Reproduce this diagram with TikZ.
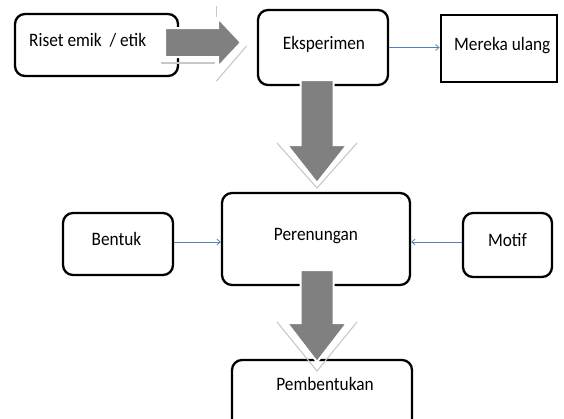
\documentclass[tikz,border=0pt]{standalone}
\usepackage{fontspec}
\setmainfont[FakeStretch=0.91]{Carlito}
\usetikzlibrary{arrows.meta,fit}
\definecolor{officeblue}{RGB}{79,129,189}
\definecolor{blockgray}{RGB}{128,128,128}
\definecolor{ringgray}{RGB}{200,200,200}
\tikzset{
  rbox/.style={draw=black, line width=2.3pt, rounded corners=10pt, inner sep=0pt, fill=white},
  sbox/.style={draw=black, line width=2.8pt, inner sep=0pt, fill=white},
  lbl/.style={font=\fontsize{19}{22}\selectfont, inner sep=0pt, text=black},
  thin/.style={draw=officeblue, line width=0.75pt, -{Straight Barb[length=3.5pt,width=6pt]}},
  block/.style={fill=blockgray, draw=white, line width=2pt, line join=miter},
  ring/.style={draw=ringgray, line width=1.1pt}
}
\begin{document}
\begin{tikzpicture}[x=1pt,y=-1pt]
\useasboundingbox (0,0) rectangle (564,418);
\clip (0,0) rectangle (564,418);
% boxes
\node[rbox, fit={(15,14) (178,76)}] (riset) {};
\node[rbox, fit={(258,10) (388,85)}] (eksp) {};
\node[sbox, fit={(441,15) (557,82)}] (mereka) {};
\node[rbox, fit={(222,193) (410,285)}] (peren) {};
\node[rbox, fit={(63,213) (173,275)}] (bentuk) {};
\node[rbox, fit={(463,213) (552,277)}] (motif) {};
\node[rbox, fit={(232,360) (412,432)}] (pemb) {};
% texts
\node[lbl, anchor=base west] (riset-t) at (29,46.7) {Riset emik\ \ / etik};
\node[lbl, anchor=base] (eksp-t) at (324,49) {Eksperimen};
\node[lbl, anchor=base west] (mereka-t) at (454,50) {Mereka ulang};
\node[lbl, anchor=base] (peren-t) at (316,240) {Perenungan};
\node[lbl, anchor=base] (bentuk-t) at (116.5,245.7) {Bentuk};
\node[lbl, anchor=base] (motif-t) at (507.5,246) {Motif};
\node[lbl, anchor=base] (pemb-t) at (325,390) {Pembentukan};
% thin blue connectors
\draw[thin] (eksp.east) -- (eksp.east -| mereka.west);
\draw[thin] ([yshift=2pt]bentuk.east) -- ([yshift=2pt]bentuk.east -| peren.west);
\draw[thin] ([yshift=3pt]motif.west) -- ([yshift=3pt]motif.west -| peren.east);
% block arrow right (riset -> eksp)
\draw[ring] (161,63) -- (215,63);
\draw[ring] (216.5,81) -- (246.5,46);
\draw[ring] (216.5,6) -- (216.5,17);
\path[block] (165,28) -- (218,28) -- (218,18) -- (241,42.5) -- (218,67) -- (218,57) -- (165,57) -- cycle;
% block arrow down (eksp -> peren)
\draw[ring] (277,143) -- (317,188) -- (357,143);
\path[block] (300.5,80) -- (333.5,80) -- (333.5,145) -- (347,145) -- (317,183) -- (287,145) -- (300.5,145) -- cycle;
% block arrow down (peren -> pemb)
\draw[ring] (277,322) -- (317,371) -- (357,322);
\path[block] (300.5,270) -- (333.5,270) -- (333.5,323) -- (347,323) -- (317,362) -- (287,323) -- (300.5,323) -- cycle;
\end{tikzpicture}
\end{document}
